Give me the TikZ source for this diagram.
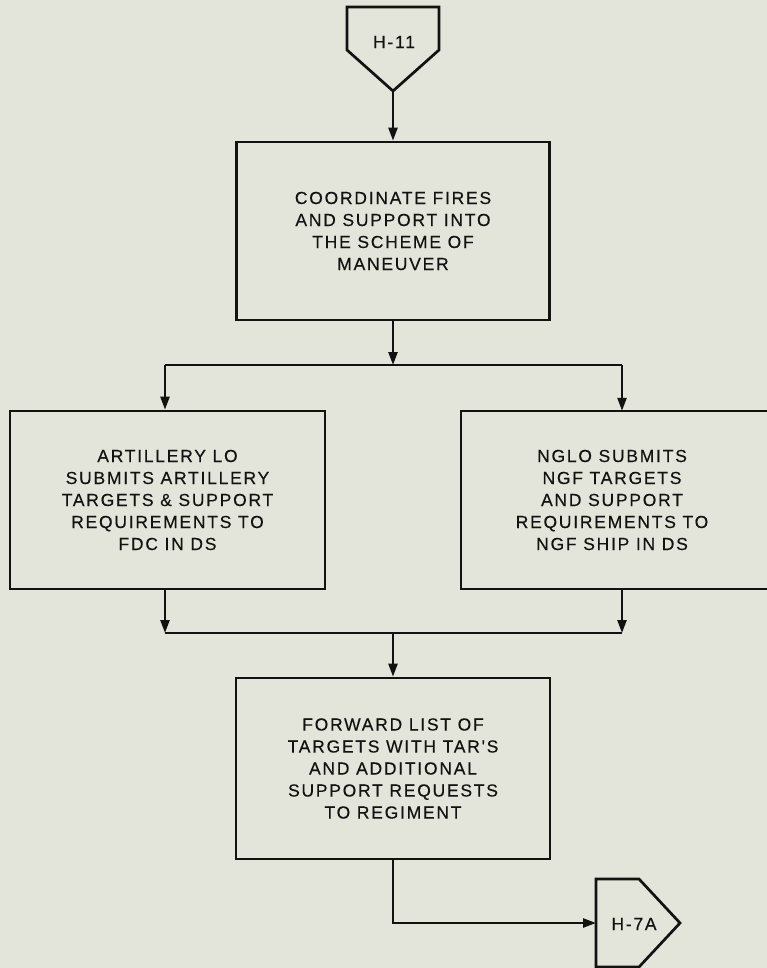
\documentclass[tikz,border=0pt]{standalone}
\usepackage{fontspec}
\setmainfont{Liberation Sans}
\newfontfamily\chartfont[LetterSpace=10,FakeBold=0.3]{Liberation Sans}
\usetikzlibrary{arrows.meta}
\definecolor{paper}{RGB}{227,228,218}
\definecolor{ink}{RGB}{18,18,18}
\begin{document}
\begin{tikzpicture}[x=1pt,y=-1pt,
  every node/.style={inner sep=0pt, text=ink, align=center,
    font=\chartfont\fontsize{17.5}{22}\selectfont},
  stepbox/.style={draw=ink, line width=2.7pt, rectangle},
  openbox/.style={rectangle},
  wire/.style={draw=ink, line width=2.7pt},
  arr/.style={draw=ink, line width=2.4pt, -{Triangle[length=13pt,width=9pt]}},
  offpage/.style={draw=ink, line width=2.7pt, line join=miter}]
  % paper
  \fill[paper] (0,0) rectangle (767,968);
  \useasboundingbox (0,0) rectangle (767,968);

  % off-page connector at the top
  \draw[offpage] (347,7) -- (439,7) -- (439,50) -- (393,91) -- (347,50) -- cycle;
  \node (h11) at (394,42) {H-11};
  \coordinate (h11tip) at (393,91);

  % process boxes
  \node[stepbox, minimum width=313pt, minimum height=178pt] (b1) at (393,231)
    {COORDINATE FIRES\\AND SUPPORT INTO\\THE SCHEME OF\\MANEUVER};
  \node[stepbox, minimum width=315pt, minimum height=178pt] (la) at (167.5,500)
    {ARTILLERY LO\\SUBMITS ARTILLERY\\TARGETS \& SUPPORT\\REQUIREMENTS TO\\FDC IN DS};
  \node[openbox, minimum width=306pt, minimum height=178pt] (rb) at (612,500)
    {NGLO SUBMITS\\NGF TARGETS\\AND SUPPORT\\REQUIREMENTS TO\\NGF SHIP IN DS};
  \draw[wire] (769,411) -- (461,411) -- (461,589) -- (769,589);
  \node[stepbox, minimum width=314pt, minimum height=181pt] (fb) at (393,768.5)
    {FORWARD LIST OF\\TARGETS WITH TAR'S\\AND ADDITIONAL\\SUPPORT REQUESTS\\TO REGIMENT};

  % off-page connector at the bottom right
  \draw[offpage] (596,879) -- (639,879) -- (680,923) -- (639,967) -- (596,967) -- cycle;
  \node (h7a) at (634,924) {H-7A};
  \coordinate (h7ain) at (596,923);

  % branch and merge points
  \coordinate (splitL) at (165,365);
  \coordinate (splitR) at (622,365);
  \coordinate (joinL) at (165,633);
  \coordinate (joinR) at (622,633);

  % connectors
  \draw[arr] (h11tip) -- (h11tip |- b1.north);
  \draw[arr] (b1.south) -- (b1.south |- splitL);
  \draw[wire] (splitL) -- (splitR);
  \draw[arr] (splitL) -- (splitL |- la.north);
  \draw[arr] (splitR) -- (splitR |- rb.north);
  \draw[arr] (splitL |- la.south) -- (joinL);
  \draw[arr] (splitR |- rb.south) -- (joinR);
  \draw[wire] (joinL) -- (joinR);
  \draw[arr] (fb.north |- joinL) -- (fb.north);
  \draw[arr] (fb.south) |- (h7ain);
\end{tikzpicture}
\end{document}
